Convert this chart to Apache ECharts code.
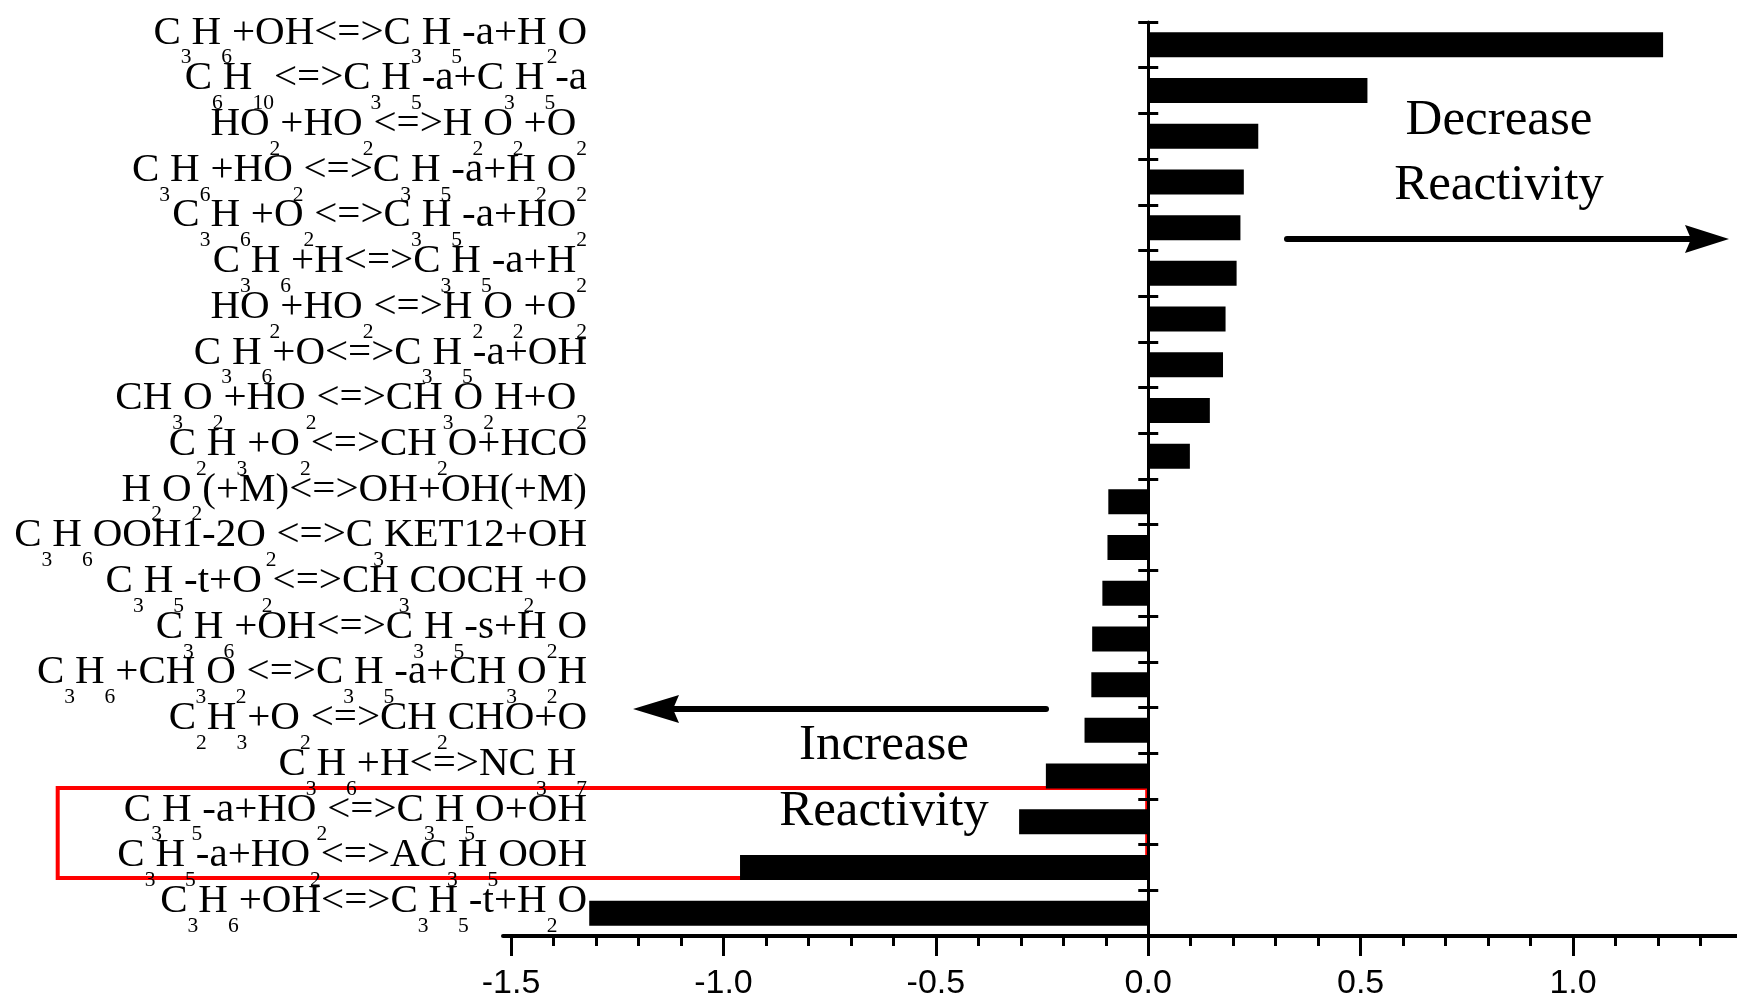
<!DOCTYPE html>
<html>
<head>
<meta charset="utf-8">
<script src="https://cdn.jsdelivr.net/npm/echarts@6/dist/echarts.min.js"></script>
<style>html,body{margin:0;padding:0;background:#fff}#c{width:1737px;height:999px}</style>
</head>
<body>
<div id="c"></div>
<script>
// "_n" marks a subscript
const categories = [
  "C_3H_6+OH<=>C_3H_5-a+H_2O",
  "C_6H_10<=>C_3H_5-a+C_3H_5-a",
  "HO_2+HO_2<=>H_2O_2+O_2",
  "C_3H_6+HO_2<=>C_3H_5-a+H_2O_2",
  "C_3H_6+O_2<=>C_3H_5-a+HO_2",
  "C_3H_6+H<=>C_3H_5-a+H_2",
  "HO_2+HO_2<=>H_2O_2+O_2",
  "C_3H_6+O<=>C_3H_5-a+OH",
  "CH_3O_2+HO_2<=>CH_3O_2H+O_2",
  "C_2H_3+O_2<=>CH_2O+HCO",
  "H_2O_2(+M)<=>OH+OH(+M)",
  "C_3H_6OOH1-2O_2<=>C_3KET12+OH",
  "C_3H_5-t+O_2<=>CH_3COCH_2+O",
  "C_3H_6+OH<=>C_3H_5-s+H_2O",
  "C_3H_6+CH_3O_2<=>C_3H_5-a+CH_3O_2H",
  "C_2H_3+O_2<=>CH_2CHO+O",
  "C_3H_6+H<=>NC_3H_7",
  "C_3H_5-a+HO_2<=>C_3H_5O+OH",
  "C_3H_5-a+HO_2<=>AC_3H_5OOH",
  "C_3H_6+OH<=>C_3H_5-t+H_2O"
];
const sensitivity = [1.212, 0.516, 0.259, 0.225, 0.217, 0.208, 0.182, 0.176, 0.145, 0.098,
  -0.094, -0.096, -0.108, -0.132, -0.134, -0.150, -0.241, -0.304, -0.961, -1.316];
const majorTicks = [-1.5, -1.0, -0.5, 0.0, 0.5, 1.0];
const minorTicks = [-1.4, -1.3, -1.2, -1.1, -0.9, -0.8, -0.7, -0.6, -0.4, -0.3, -0.2, -0.1,
  0.1, 0.2, 0.3, 0.4, 0.6, 0.7, 0.8, 0.9, 1.1, 1.2, 1.3];

const chart = echarts.init(document.getElementById('c'));
const xMin = -1.519, xMax = 1.386;
const serif = '"Liberation Serif","Times New Roman",serif';
const sans = '"Liberation Sans",Arial,sans-serif';

chart.setOption({
  animation: false,
  backgroundColor: '#fff',
  grid: {left: 503, right: 0, top: 22, bottom: 63, containLabel: false, outerBoundsMode: 'none'},
  xAxis: [
    {
      type: 'value', min: xMin, max: xMax, position: 'bottom',
      splitLine: {show: false},
      axisLine: {show: true, lineStyle: {color: '#000', width: 4}},
      axisTick: {show: true, customValues: majorTicks, length: 20, lineStyle: {color: '#000', width: 3}},
      axisLabel: {show: true, customValues: majorTicks, margin: 31, color: '#000',
        fontFamily: sans, fontSize: 34, formatter: v => v.toFixed(1)}
    },
    {
      type: 'value', min: xMin, max: xMax, position: 'bottom',
      splitLine: {show: false},
      axisLine: {show: false},
      axisTick: {show: true, customValues: minorTicks, length: 10, lineStyle: {color: '#000', width: 3}},
      axisLabel: {show: false}
    }
  ],
  yAxis: [
    {
      type: 'category', data: categories, inverse: true, position: 'left',
      axisLine: {show: false, onZero: false},
      axisTick: {show: false},
      splitLine: {show: false},
      axisLabel: {
        interval: 0, margin: -84, color: '#000', fontFamily: serif, fontSize: 41,
        lineHeight: 72, padding: [0, 0, 24, 0],
        formatter: v => v.replace(/_(\d+)/g, '{s|$1}'),
        rich: {s: {fontFamily: serif, fontSize: 21.5, lineHeight: 21, verticalAlign: 'bottom', color: '#000'}}
      }
    },
    {
      type: 'category', data: categories, inverse: true, position: 'left',
      axisLine: {show: true, onZero: true, lineStyle: {color: '#000', width: 3}},
      axisTick: {show: true, inside: false, length: 10, lineStyle: {color: '#000', width: 3}},
      axisLabel: {show: false},
      splitLine: {show: false}
    },
    {
      type: 'category', data: categories, inverse: true, position: 'left',
      axisLine: {show: false, onZero: true},
      axisTick: {show: true, inside: true, length: 10, lineStyle: {color: '#000', width: 3}},
      axisLabel: {show: false},
      splitLine: {show: false}
    }
  ],
  series: [{
    type: 'bar', xAxisIndex: 0, yAxisIndex: 0, data: sensitivity,
    barWidth: 25, itemStyle: {color: '#000'}, z: 3
  }],
  graphic: [
    {type: 'rect', z: 0, shape: {x: 57.7, y: 788, width: 1089.5, height: 90},
      style: {fill: 'none', stroke: '#ff0000', lineWidth: 4}},
    {type: 'text', z: 5, x: 1499, y: 121, style: {text: 'Decrease', font: '51px ' + serif, fill: '#000', align: 'center', verticalAlign: 'middle'}},
    {type: 'text', z: 5, x: 1499, y: 186, style: {text: 'Reactivity', font: '51px ' + serif, fill: '#000', align: 'center', verticalAlign: 'middle'}},
    {type: 'text', z: 5, x: 884, y: 746, style: {text: 'Increase', font: '51px ' + serif, fill: '#000', align: 'center', verticalAlign: 'middle'}},
    {type: 'text', z: 5, x: 884, y: 812, style: {text: 'Reactivity', font: '51px ' + serif, fill: '#000', align: 'center', verticalAlign: 'middle'}},
    {type: 'line', z: 5, shape: {x1: 1287, y1: 239, x2: 1695, y2: 239}, style: {stroke: '#000', lineWidth: 6, lineCap: 'round'}},
    {type: 'polygon', z: 5, shape: {points: [[1729, 239], [1685, 225], [1691, 239], [1685, 253]]}, style: {fill: '#000'}},
    {type: 'line', z: 5, shape: {x1: 1046, y1: 709, x2: 668, y2: 709}, style: {stroke: '#000', lineWidth: 6, lineCap: 'round'}},
    {type: 'polygon', z: 5, shape: {points: [[633, 709], [679, 695], [673, 709], [679, 723]]}, style: {fill: '#000'}}
  ]
});
</script>
</body>
</html>
